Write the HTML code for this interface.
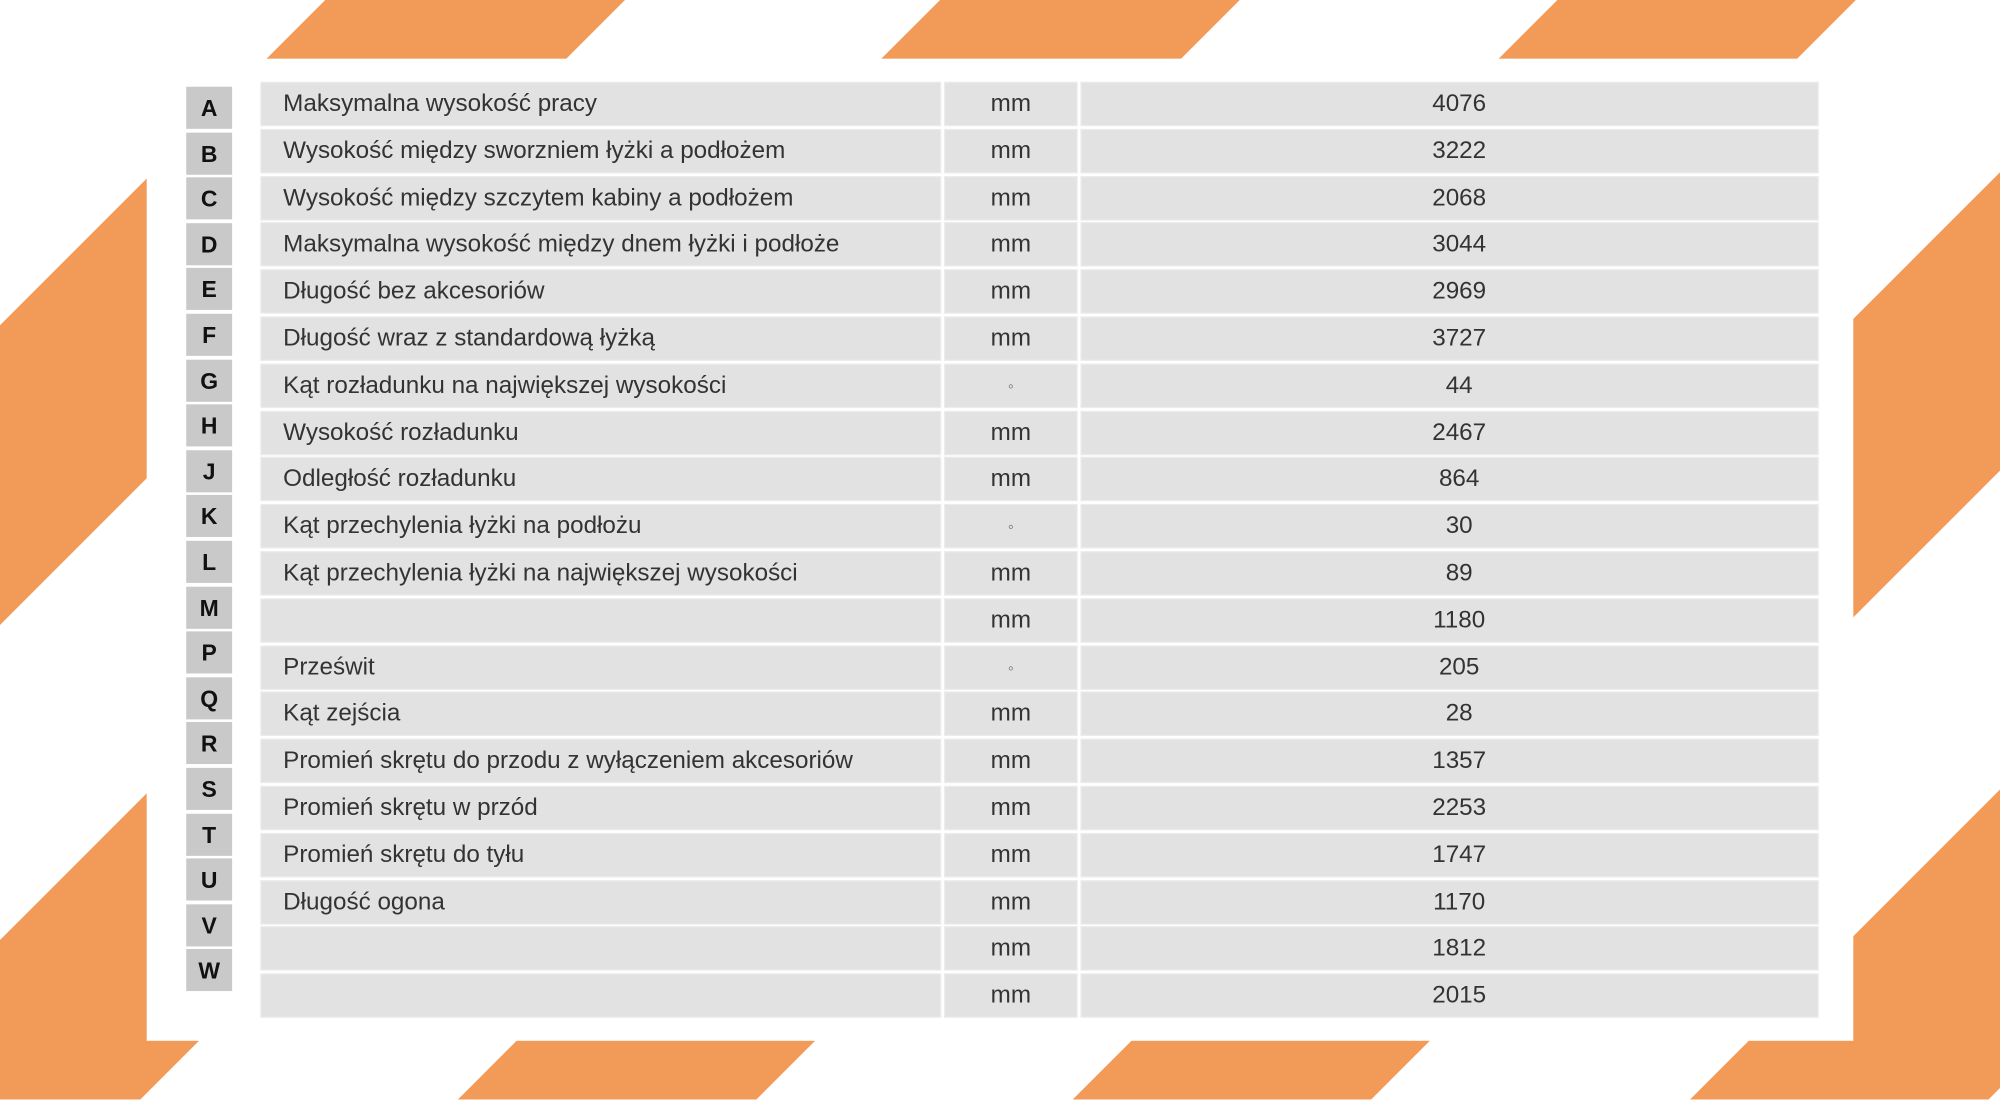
<!DOCTYPE html>
<html><head><meta charset="utf-8"><style>
html,body{margin:0;padding:0;width:2000px;height:1100px;overflow:hidden;background:#fff}
#w{position:absolute;left:0;top:0;width:1568px;height:862px;transform:scale(1.27551);transform-origin:0 0}
svg{position:absolute;left:0;top:0}
#panel{position:absolute;left:115px;top:46px;width:1338px;height:770px;background:#fff}
.c{position:absolute;background:#e2e2e2;height:33px;box-shadow:0 0 0 1px #ececec}
.l{position:absolute;left:146px;width:36px;height:33px;background:#c9c9c9;font:bold 18px "Liberation Sans",sans-serif;color:#111;text-align:center;line-height:35px}
.t{position:absolute;font:19px "Liberation Sans",sans-serif;color:#333;line-height:33px;white-space:nowrap}
</style></head><body><div id="w">
<svg width="1568" height="862"><g fill="#f29a58">
<polygon points="255,0 490,0 -372,862 -607,862"/>
<polygon points="737,0 972,0 110,862 -125,862"/>
<polygon points="1221,0 1455,0 593,862 359,862"/>
<polygon points="1703,0 1937,0 1075,862 841,862"/>
<polygon points="2187,0 2421,0 1559,862 1325,862"/>
</g></svg>
<div id="panel"></div>
<div id="rows"></div>
</div>
<script>
var d=[["A","Maksymalna wysokość pracy","mm","4076"],["B","Wysokość między sworzniem łyżki a podłożem","mm","3222"],["C","Wysokość między szczytem kabiny a podłożem","mm","2068"],["D","Maksymalna wysokość między dnem łyżki i podłoże","mm","3044"],["E","Długość bez akcesoriów","mm","2969"],["F","Długość wraz z standardową łyżką","mm","3727"],["G","Kąt rozładunku na największej  wysokości","◦","44"],["H","Wysokość rozładunku","mm","2467"],["J","Odległość rozładunku","mm","864"],["K","Kąt przechylenia łyżki na podłożu","◦","30"],["L","Kąt przechylenia łyżki na największej wysokości","mm","89"],["M","","mm","1180"],["P","Prześwit","◦","205"],["Q","Kąt zejścia","mm","28"],["R","Promień skrętu do przodu z wyłączeniem akcesoriów","mm","1357"],["S","Promień skrętu w przód","mm","2253"],["T","Promień skrętu do tyłu","mm","1747"],["U","Długość ogona","mm","1170"],["V","","mm","1812"],["W","","mm","2015"]];
var h="";
d.forEach(function(r,i){var y=65+i*36.8,ly=68+i*35.6;
h+='<div class="l" style="top:'+ly+'px">'+r[0]+'</div>';
h+='<div class="c" style="left:205px;width:532px;top:'+y+'px"></div><div class="c" style="left:741px;width:103px;top:'+y+'px"></div><div class="c" style="left:848px;width:577px;top:'+y+'px"></div>';
h+='<div class="t" style="left:222px;top:'+y+'px">'+r[1]+'</div>';
h+='<div class="t" style="left:741px;width:103px;text-align:center;top:'+y+'px;'+(r[2]=="◦"?'font-size:13px;color:#666':'')+'">'+r[2]+'</div>';
h+='<div class="t" style="left:848px;width:592px;text-align:center;top:'+y+'px">'+r[3]+'</div>';});
document.getElementById("rows").innerHTML=h;
</script>
</body></html>
